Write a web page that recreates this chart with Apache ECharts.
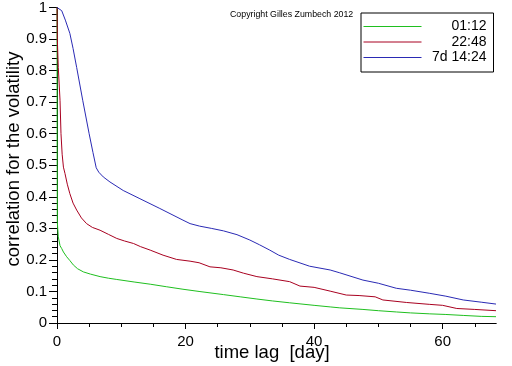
<!DOCTYPE html>
<html>
<head>
<meta charset="utf-8">
<script src="https://cdn.jsdelivr.net/npm/echarts@6/dist/echarts.min.js"></script>
<style>html,body{margin:0;padding:0;background:#fff}#c{width:512px;height:366px}</style>
</head>
<body>
<div id="c"></div>
<script>
var seriesNames = ['01:12', '22:48', '7d 14:24'];
var greenData = [[0,1],[0.02,0.56],[0.05,0.32],[0.2,0.273],[0.47,0.245],[0.73,0.236],[1.0,0.225],[1.5,0.21],[2.0,0.198],[2.54,0.184],[3.2,0.172],[4.1,0.162],[5.2,0.155],[6.7,0.147],[8,0.142],[9.3,0.138],[12,0.13],[14.5,0.123],[17,0.115],[19.6,0.107],[22.1,0.1],[25.9,0.09],[28.5,0.083],[31.1,0.076],[33.5,0.07],[36.2,0.064],[40,0.056],[42.5,0.051],[44,0.048],[47.6,0.043],[50,0.039],[52.8,0.035],[55,0.032],[58,0.029],[60.5,0.027],[63.2,0.024],[66,0.021],[68.3,0.02]];
var redData = [[0,1],[0.05,0.9],[0.2,0.81],[0.47,0.706],[0.62,0.6],[0.8,0.535],[1.0,0.494],[1.24,0.474],[1.6,0.44],[2.0,0.41],[2.5,0.38],[3.06,0.358],[3.8,0.333],[4.6,0.315],[5.5,0.303],[6.7,0.294],[8,0.281],[9.3,0.268],[10.5,0.26],[11.9,0.252],[13,0.242],[14.5,0.231],[16.5,0.215],[18.6,0.2015],[20.7,0.196],[22.1,0.191],[23.8,0.178],[25.5,0.175],[27.4,0.168],[29,0.158],[31.1,0.147],[33.5,0.14],[36.2,0.131],[37.8,0.117],[40,0.113],[42.5,0.101],[45,0.0886],[47,0.087],[49.5,0.083],[50.7,0.073],[54.4,0.065],[58,0.059],[60,0.056],[62.2,0.046],[65,0.043],[68.3,0.039]];
var blueData = [[0,1],[0.73,0.99],[1.3,0.96],[2.0,0.918],[2.5,0.87],[3.06,0.81],[4.0,0.706],[5.0,0.6],[5.6,0.54],[6.1,0.492],[6.5,0.478],[7.2,0.463],[8.24,0.447],[10.3,0.42],[12.9,0.394],[16.0,0.363],[19.6,0.326],[20.7,0.315],[22.2,0.307],[24,0.3],[25.9,0.292],[28,0.28],[30,0.263],[31.5,0.248],[33.1,0.231],[34.5,0.215],[36.2,0.2015],[39.3,0.18],[42.5,0.168],[44,0.159],[47.6,0.136],[50,0.126],[52.8,0.11],[55,0.104],[58,0.094],[60.5,0.085],[63.2,0.073],[66,0.066],[68.3,0.06]];
var xMajorTicks = [0, 20, 40, 60];
var xMinorTicks = [5, 10, 15, 25, 30, 35, 45, 50, 55, 65];
var xTitle = 'time lag  [day]';
var yTitle = 'correlation for the volatility';
var copyright = 'Copyright Gilles Zumbech 2012';
var colors = ['#1fbf1f', '#a80020', '#2a2ab4'];

var chart = echarts.init(document.getElementById('c'));
var font = 'Liberation Sans, Arial, sans-serif';
chart.setOption({
  animation: false,
  color: colors,
  grid: {left: 57, right: 16, top: 7, bottom: 43},
  xAxis: [{
    type: 'value', min: 0, max: 68.3, interval: 20,
    splitLine: {show: false},
    axisLine: {lineStyle: {color: '#000', width: 1}},
    axisTick: {customValues: xMajorTicks, length: 6, lineStyle: {color: '#000'}},
    axisLabel: {customValues: xMajorTicks, margin: 11, color: '#000', fontSize: 15, fontFamily: font}
  }, {
    type: 'value', min: 0, max: 68.3, interval: 5, position: 'bottom',
    splitLine: {show: false},
    axisLine: {show: true, lineStyle: {color: '#000', width: 1}},
    axisTick: {show: true, customValues: xMinorTicks, length: 4, lineStyle: {color: '#000'}},
    axisLabel: {show: false}
  }],
  yAxis: {
    type: 'value', min: 0, max: 1, interval: 0.1,
    splitLine: {show: false},
    axisLine: {show: true, lineStyle: {color: '#000', width: 1}},
    axisTick: {show: true, length: 8, lineStyle: {color: '#000'}},
    minorTick: {show: true, splitNumber: 5, length: 5, lineStyle: {color: '#000'}},
    axisLabel: {margin: 10, color: '#000', fontSize: 15, fontFamily: font}
  },
  legend: {
    orient: 'vertical', left: 361, top: 13,
    padding: [6.5, 7, 7.5, 2],
    itemWidth: 58, itemHeight: 14, itemGap: 1.5,
    borderColor: '#000', borderWidth: 1, borderRadius: 0,
    itemStyle: {opacity: 0},
    lineStyle: {width: 1},
    data: seriesNames,
    formatter: function (n) { return '{a|' + n + '}'; },
    textStyle: {rich: {a: {width: 60, align: 'right', fontSize: 14, color: '#000', fontFamily: font}}}
  },
  graphic: [
    {type: 'text', left: 230, top: 10, style: {text: copyright, fontSize: 8.8, fontFamily: font, fill: '#000'}},
    {type: 'text', x: 272, y: 353, style: {text: xTitle, fontSize: 18.5, fontFamily: font, fill: '#000', align: 'center', verticalAlign: 'middle'}},
    {type: 'text', x: 14, y: 159, rotation: Math.PI / 2, style: {text: yTitle, fontSize: 18.5, fontFamily: font, fill: '#000', align: 'center', verticalAlign: 'middle'}}
  ],
  series: [
    {name: seriesNames[0], type: 'line', data: greenData, showSymbol: false, symbol: 'none', lineStyle: {width: 1}},
    {name: seriesNames[1], type: 'line', data: redData, showSymbol: false, symbol: 'none', lineStyle: {width: 1}},
    {name: seriesNames[2], type: 'line', data: blueData, showSymbol: false, symbol: 'none', lineStyle: {width: 1}}
  ]
});
</script>
</body>
</html>
